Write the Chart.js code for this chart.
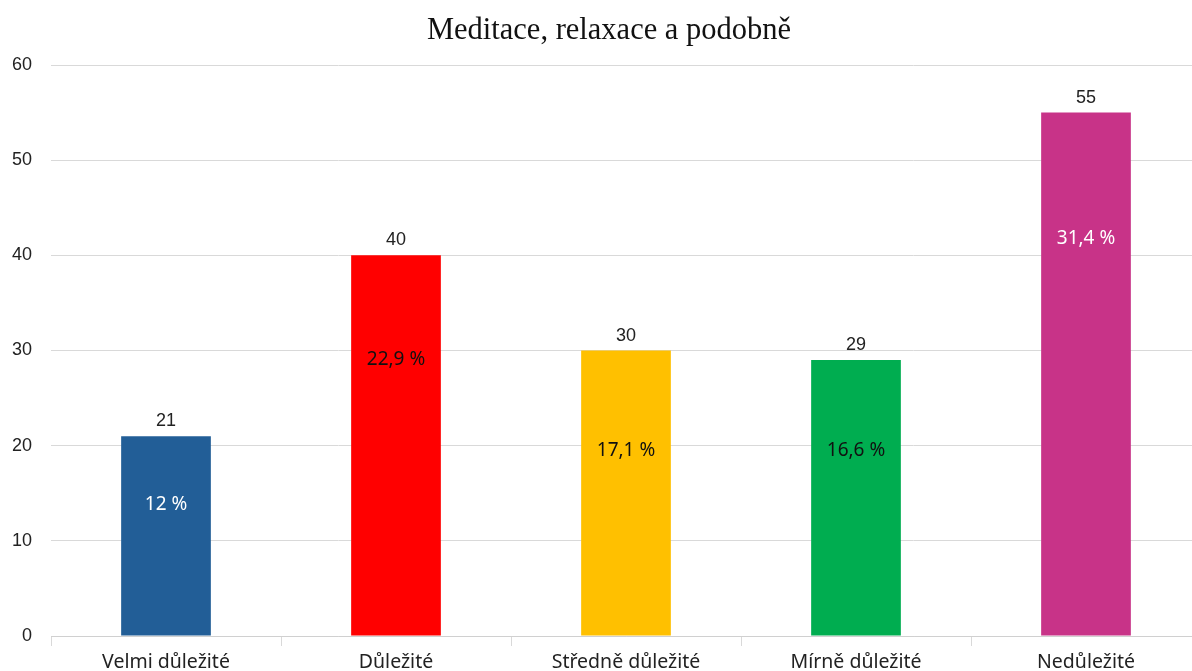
<!DOCTYPE html>
<html lang="cs">
<head>
<meta charset="utf-8">
<title>Meditace, relaxace a podobně</title>
<script src="https://cdn.jsdelivr.net/npm/chart.js@4.4.1/dist/chart.umd.min.js"></script>
<style>
  html, body { margin: 0; padding: 0; background: #fff; overflow: hidden; }
  #wrap { width: 1218px; height: 671px; }
</style>
</head>
<body>
<div id="wrap"><canvas id="chart" width="1218" height="671"></canvas></div>
<script>
const chartTitle = 'Meditace, relaxace a podobně';
const categories = ['Velmi důležité', 'Důležité', 'Středně důležité', 'Mírně důležité', 'Nedůležité'];
const counts = [21, 40, 30, 29, 55];
const shares = ['12 %', '22,9 %', '17,1 %', '16,6 %', '31,4 %'];
const barColors = ['#225E97', '#FF0000', '#FFC000', '#00AD50', '#C83388'];
const yTicks = [0, 10, 20, 30, 40, 50, 60];

// value on the y scale where each share label sits, and its colour
const shareAnchor = [13.8, 29, 19.5, 19.5, 41.8];
const shareColor = ['#ffffff', '#111111', '#111111', '#111111', '#ffffff'];

const barLabels = {
    id: 'barLabels',
    afterDatasetsDraw(chart) {
        const ctx = chart.ctx;
        const meta = chart.getDatasetMeta(0);
        const y = chart.scales.y;
        ctx.save();
        ctx.textAlign = 'center';
        meta.data.forEach((bar, i) => {
            // count above the bar
            ctx.font = '18px "Liberation Sans", Arial, sans-serif';
            ctx.fillStyle = '#222';
            ctx.textBaseline = 'alphabetic';
            ctx.fillText(String(counts[i]), bar.x, bar.y - 10);
            // share inside the bar
            ctx.font = '19px "Noto Sans", sans-serif';
            ctx.fillStyle = shareColor[i];
            ctx.textBaseline = 'middle';
            ctx.fillText(shares[i], bar.x, y.getPixelForValue(shareAnchor[i]));
        });
        ctx.restore();
    }
};

// title centred on the whole canvas rather than on the plot area
const canvasTitle = {
    id: 'canvasTitle',
    afterDraw(chart) {
        const ctx = chart.ctx;
        ctx.save();
        ctx.font = '30.5px "Liberation Serif", "Times New Roman", serif';
        ctx.fillStyle = '#111';
        ctx.textAlign = 'center';
        ctx.textBaseline = 'middle';
        ctx.fillText(chartTitle, chart.width / 2, 31);
        ctx.restore();
    }
};

new Chart(document.getElementById('chart').getContext('2d'), {
    type: 'bar',
    data: {
        labels: categories,
        datasets: [{
            data: counts,
            backgroundColor: barColors,
            barPercentage: 0.39,
            categoryPercentage: 1
        }]
    },
    options: {
        responsive: false,
        animation: false,
        layout: { padding: { left: 0, right: 17, top: 65, bottom: 0 } },
        plugins: {
            legend: { display: false },
            tooltip: { enabled: false },
            title: { display: false }
        },
        scales: {
            x: {
                grid: {
                    offset: true,
                    drawOnChartArea: false,
                    drawTicks: true,
                    tickLength: 10,
                    color: '#d9d9d9'
                },
                border: { color: '#d0d0d0' },
                ticks: {
                    color: '#222',
                    padding: 5,
                    font: { family: '"Noto Sans", sans-serif', size: 19.5 }
                },
                afterFit(scale) { scale.height = 35; }
            },
            y: {
                min: 0,
                max: 60,
                afterBuildTicks(scale) { scale.ticks = yTicks.map(v => ({ value: v })); },
                grid: { color: '#d9d9d9', drawTicks: false },
                border: { display: false },
                ticks: {
                    color: '#222',
                    padding: 19,
                    font: { family: '"Liberation Sans", Arial, sans-serif', size: 18 }
                },
                afterFit(scale) { scale.width = 51; }
            }
        }
    },
    plugins: [barLabels, canvasTitle]
});
</script>
</body>
</html>
